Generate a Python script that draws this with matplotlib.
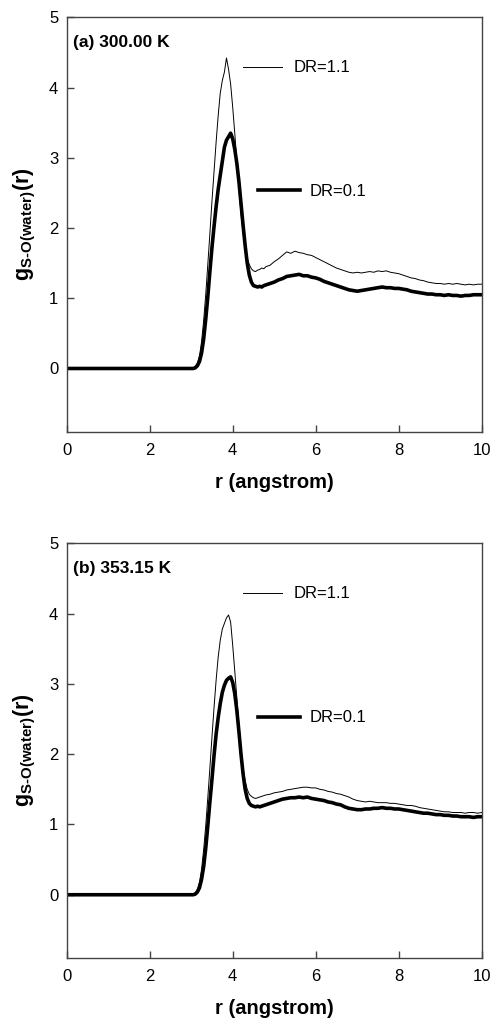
import matplotlib
matplotlib.use("Agg")
import matplotlib.pyplot as plt

plt.rcParams['font.family'] = ['Liberation Sans', 'DejaVu Sans']
plt.rcParams['mathtext.fontset'] = 'custom'
plt.rcParams['mathtext.rm'] = 'Liberation Sans'
plt.rcParams['mathtext.bf'] = 'Liberation Sans:bold'

# distancia r (angstrom)
r = [0.0,
     3.00, 3.05, 3.10, 3.15, 3.20, 3.25, 3.30, 3.35, 3.40, 3.45,
     3.50, 3.55, 3.60, 3.65, 3.70, 3.75, 3.80, 3.85, 3.90, 3.95,
     4.00, 4.05, 4.10, 4.15, 4.20, 4.25, 4.30, 4.35, 4.40, 4.45,
     4.50, 4.55, 4.60, 4.65, 4.70, 4.75, 4.80,
     4.9, 5.0, 5.1, 5.2, 5.3, 5.4, 5.5, 5.6, 5.7, 5.8,
     5.9, 6.0, 6.1, 6.2, 6.3, 6.4, 6.5, 6.6, 6.7, 6.8,
     6.9, 7.0, 7.1, 7.2, 7.3, 7.4, 7.5, 7.6, 7.7, 7.8,
     7.9, 8.0, 8.1, 8.2, 8.3, 8.4, 8.5, 8.6, 8.7, 8.8,
     8.9, 9.0, 9.1, 9.2, 9.3, 9.4, 9.5, 9.6, 9.7, 9.8,
     9.9, 10.0]

# (a) 300.00 K
g_a_dr11 = [0.00,
            0.00, 0.01, 0.03, 0.08, 0.18, 0.38, 0.68, 1.05, 1.48, 1.92,
            2.38, 2.80, 3.22, 3.60, 3.92, 4.10, 4.22, 4.42, 4.26, 4.05,
            3.72, 3.35, 2.95, 2.55, 2.20, 1.92, 1.72, 1.57, 1.48, 1.42,
            1.39, 1.38, 1.40, 1.41, 1.43, 1.42, 1.45,
            1.47, 1.52, 1.56, 1.61, 1.66, 1.64, 1.67, 1.65, 1.64, 1.62,
            1.61, 1.58, 1.55, 1.52, 1.49, 1.46, 1.43, 1.41, 1.39, 1.37,
            1.36, 1.37, 1.36, 1.37, 1.38, 1.37, 1.39, 1.38, 1.39, 1.37,
            1.36, 1.35, 1.33, 1.31, 1.29, 1.28, 1.26, 1.25, 1.23, 1.22,
            1.21, 1.21, 1.20, 1.21, 1.20, 1.21, 1.20, 1.19, 1.20, 1.19,
            1.20, 1.20]
g_a_dr01 = [0.00,
            0.00, 0.00, 0.01, 0.04, 0.10, 0.22, 0.42, 0.70, 1.02, 1.38,
            1.72, 2.02, 2.30, 2.55, 2.75, 2.95, 3.15, 3.25, 3.30, 3.35,
            3.27, 3.12, 2.92, 2.66, 2.35, 2.04, 1.75, 1.50, 1.33, 1.23,
            1.18, 1.17, 1.16, 1.17, 1.16, 1.18, 1.19,
            1.21, 1.23, 1.26, 1.28, 1.31, 1.32, 1.33, 1.34, 1.32, 1.32,
            1.30, 1.29, 1.27, 1.24, 1.22, 1.20, 1.18, 1.16, 1.14, 1.12,
            1.11, 1.10, 1.11, 1.12, 1.13, 1.14, 1.15, 1.16, 1.15, 1.15,
            1.14, 1.14, 1.13, 1.12, 1.10, 1.09, 1.08, 1.07, 1.06, 1.06,
            1.05, 1.05, 1.04, 1.05, 1.04, 1.04, 1.03, 1.04, 1.04, 1.05,
            1.05, 1.05]

# (b) 353.15 K
g_b_dr11 = [0.00,
            0.00, 0.01, 0.03, 0.08, 0.18, 0.36, 0.64, 0.98, 1.38, 1.80,
            2.24, 2.66, 3.05, 3.38, 3.62, 3.78, 3.86, 3.94, 3.98, 3.88,
            3.55, 3.18, 2.80, 2.42, 2.08, 1.80, 1.62, 1.50, 1.43, 1.40,
            1.38, 1.37, 1.38, 1.39, 1.40, 1.41, 1.42,
            1.43, 1.45, 1.46, 1.47, 1.49, 1.50, 1.51, 1.52, 1.53, 1.53,
            1.52, 1.52, 1.50, 1.49, 1.47, 1.46, 1.44, 1.43, 1.41, 1.39,
            1.36, 1.34, 1.33, 1.32, 1.33, 1.32, 1.31, 1.31, 1.31, 1.30,
            1.30, 1.29, 1.28, 1.27, 1.27, 1.26, 1.24, 1.23, 1.22, 1.21,
            1.20, 1.19, 1.18, 1.18, 1.17, 1.17, 1.17, 1.16, 1.17, 1.17,
            1.16, 1.17]
g_b_dr01 = [0.00,
            0.00, 0.00, 0.01, 0.04, 0.10, 0.22, 0.40, 0.66, 0.98, 1.32,
            1.64, 1.98, 2.28, 2.52, 2.72, 2.88, 2.98, 3.05, 3.08, 3.10,
            3.02, 2.86, 2.62, 2.32, 2.00, 1.72, 1.50, 1.37, 1.30, 1.27,
            1.26, 1.25, 1.26, 1.25, 1.26, 1.27, 1.28,
            1.30, 1.32, 1.34, 1.36, 1.37, 1.38, 1.38, 1.39, 1.38, 1.39,
            1.37, 1.36, 1.35, 1.34, 1.32, 1.31, 1.29, 1.28, 1.25, 1.23,
            1.22, 1.21, 1.21, 1.22, 1.22, 1.23, 1.23, 1.24, 1.23, 1.23,
            1.22, 1.22, 1.21, 1.20, 1.19, 1.18, 1.17, 1.16, 1.16, 1.15,
            1.14, 1.14, 1.13, 1.13, 1.12, 1.12, 1.11, 1.11, 1.11, 1.10,
            1.11, 1.11]

titulos = ["(a) 300.00 K", "(b) 353.15 K"]
series = [(g_a_dr11, g_a_dr01), (g_b_dr11, g_b_dr01)]
etiquetas = ["DR=1.1", "DR=0.1"]
xticks = [0, 2, 4, 6, 8, 10]
yticks = [0, 1, 2, 3, 4, 5]

W, H = 492, 1021
fig = plt.figure(figsize=(W / 100, H / 100), dpi=100)

# posiciones de los ejes en pixeles (izq, arriba, der, abajo)
cajas = [(66.7, 17.3, 481.7, 431.7), (66.7, 543.3, 481.7, 958.0)]

for caja, titulo, (g11, g01) in zip(cajas, titulos, series):
    x0, y0, x1, y1 = caja
    ax = fig.add_axes([x0 / W, 1 - y1 / H, (x1 - x0) / W, (y1 - y0) / H])

    l11, = ax.plot(r, g11, color="black", lw=0.7)
    l01, = ax.plot(r, g01, color="black", lw=2.6)

    ax.set_xlim(0, 10)
    ax.set_ylim(-0.9, 5)
    ax.set_xticks(xticks)
    ax.set_yticks(yticks)
    ax.tick_params(direction="in", length=5, width=1, color="#444444",
                   labelsize=12)
    ax.tick_params(axis="x", pad=8)
    ax.tick_params(axis="y", pad=6)
    for s in ax.spines.values():
        s.set_linewidth(1)
        s.set_color("#444444")

    ax.set_xlabel("r (angstrom)", fontsize=14.5, fontweight="bold",
                  labelpad=11)
    ax.set_ylabel("$\\mathbf{g_{S\u2010O(water)}(r)}$", fontsize=15.5,
                  labelpad=8)

    ax.text(0.015, 0.939, titulo, transform=ax.transAxes, fontsize=12.5,
            fontweight="bold", va="center", ha="left")

    # leyendas escalonadas, como en el original
    leg1 = ax.legend([l11], [etiquetas[0]], loc="center left",
                     bbox_to_anchor=(0.424, 0.878), frameon=False, fontsize=12,
                     handlelength=2.35, handletextpad=0.7, borderpad=0,
                     borderaxespad=0)
    ax.add_artist(leg1)
    ax.legend([l01], [etiquetas[1]], loc="center left",
              bbox_to_anchor=(0.461, 0.579), frameon=False, fontsize=12,
              handlelength=2.5, handletextpad=0.6, borderpad=0,
              borderaxespad=0)

fig.savefig("out.png", dpi=100)
